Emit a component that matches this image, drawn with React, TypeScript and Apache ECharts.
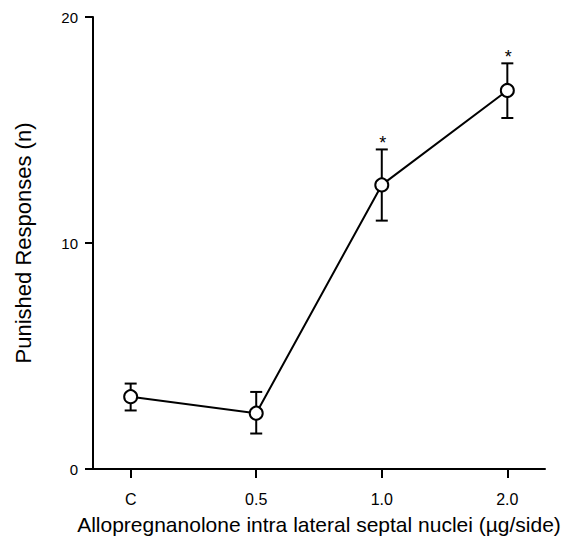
import React, { useEffect, useRef } from "react";
import * as echarts from "echarts";

const categories = ["C", "0.5", "1.0", "2.0"];
const means = [3.2, 2.47, 12.57, 16.75];
const upper = [3.78, 3.41, 14.14, 17.95];
const lower = [2.59, 1.57, 10.99, 15.53];
const significant = [false, false, true, true];
const yTicks = [0, 10, 20];

const FONT = "Liberation Sans, Arial, Helvetica, sans-serif";

export default function App() {
  const ref = useRef<HTMLDivElement>(null);
  useEffect(() => {
    document.body.style.margin = "0";
    if (!ref.current) return;
    const chart = echarts.init(ref.current, null, { renderer: "svg" });
    const idx = categories.map((_, i) => i);
    chart.setOption({
      animation: false,
      backgroundColor: "#fff",
      grid: { left: 93, right: 24, top: 17, bottom: 68 },
      xAxis: {
        type: "value",
        min: -0.3,
        max: 3.3,
        splitLine: { show: false },
        axisLine: { show: true, onZero: false, lineStyle: { color: "#000", width: 2 } },
        axisTick: {
          show: true,
          customValues: idx,
          length: 9,
          lineStyle: { color: "#000", width: 2 },
        },
        axisLabel: {
          customValues: idx,
          formatter: (v: number) => categories[Math.round(v)] ?? "",
          color: "#000",
          fontSize: 16,
          fontFamily: FONT,
          margin: 22,
        },
        name: "Allopregnanolone intra lateral septal nuclei (µg/side)",
        nameLocation: "middle",
        nameGap: 45,
        nameTextStyle: { color: "#000", fontSize: 21, fontFamily: FONT },
      },
      yAxis: {
        type: "value",
        min: 0,
        max: 20,
        interval: 10,
        splitLine: { show: false },
        axisLine: { show: true, onZero: false, lineStyle: { color: "#000", width: 2 } },
        axisTick: { show: true, length: 8, lineStyle: { color: "#000", width: 2 } },
        axisLabel: {
          color: "#000",
          fontSize: 15,
          fontFamily: FONT,
          margin: 15,
          formatter: (v: number) => (yTicks.includes(v) ? String(v) : ""),
        },
        name: "Punished Responses (n)",
        nameLocation: "middle",
        nameGap: 59,
        nameTextStyle: { color: "#000", fontSize: 22, fontFamily: FONT },
      },
      series: [
        {
          type: "custom",
          data: idx.map((i) => [i, lower[i], upper[i], significant[i] ? 1 : 0]),
          renderItem: (params: any, api: any) => {
            const x = api.value(0);
            const lo = api.coord([x, api.value(1)]);
            const hi = api.coord([x, api.value(2)]);
            const cap = 6;
            const style = { stroke: "#000", lineWidth: 2 };
            const children: any[] = [
              { type: "line", shape: { x1: lo[0], y1: lo[1], x2: hi[0], y2: hi[1] }, style },
              { type: "line", shape: { x1: lo[0] - cap, y1: lo[1], x2: lo[0] + cap, y2: lo[1] }, style },
              { type: "line", shape: { x1: hi[0] - cap, y1: hi[1], x2: hi[0] + cap, y2: hi[1] }, style },
            ];
            if (api.value(3) === 1) {
              children.push({
                type: "text",
                x: hi[0] + 1,
                y: hi[1] + 3,
                style: {
                  text: "*",
                  fill: "#000",
                  font: "18px " + FONT,
                  align: "center",
                  verticalAlign: "bottom",
                },
              });
            }
            return { type: "group", children };
          },
          z: 1,
        },
        {
          type: "line",
          data: idx.map((i) => [i, means[i]]),
          symbol: "circle",
          symbolSize: 13,
          lineStyle: { color: "#000", width: 2 },
          itemStyle: { color: "#fff", borderColor: "#000", borderWidth: 2 },
          z: 3,
        },
      ],
    });
    return () => chart.dispose();
  }, []);
  return <div ref={ref} style={{ width: 569, height: 540 }} />;
}
